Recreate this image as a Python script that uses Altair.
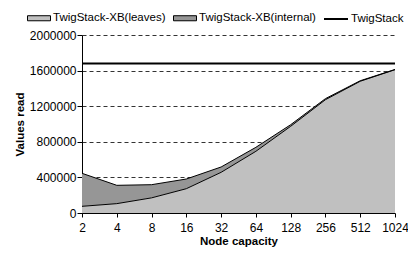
import altair as alt
import pandas as pd

capacities = [2, 4, 8, 16, 32, 64, 128, 256, 512, 1024]
leaves = [75000, 105000, 170000, 273000, 457000, 693000, 974000, 1273000, 1480000, 1610000]
internal = [371000, 206000, 148000, 109000, 60000, 45000, 18000, 12000, 6000, 3000]
twigstack = [1680000] * len(capacities)

series_names = ["TwigStack-XB(leaves)", "TwigStack-XB(internal)"]
area_colors = ["#c0c0c0", "#969696"]

rows = []
for i, c in enumerate(capacities):
    rows.append({"cap": c, "series": series_names[0], "lo": 0, "hi": leaves[i]})
    rows.append({"cap": c, "series": series_names[1], "lo": leaves[i], "hi": leaves[i] + internal[i]})
area_df = pd.DataFrame(rows)
line_df = pd.DataFrame({"cap": capacities, "val": twigstack, "series": ["TwigStack"] * len(capacities)})

FONT = "Liberation Sans"
yaxis = alt.Axis(title="Values read", values=list(range(0, 2000001, 400000)),
                 format="d", grid=True, labelOverlap=False)
xaxis = alt.Axis(title="Node capacity", labelAngle=0, grid=False, labelOverlap=False,
                 labelFlush=False, values=capacities, format="d")
xscale = alt.Scale(type="log", base=2, domain=[2, 1024], nice=False)
yscale = alt.Scale(domain=[0, 2000000])

rect_path = "M-1,-0.22H1V0.22H-1Z"

base = alt.Chart(area_df)
areas = base.mark_area(opacity=1).encode(
    x=alt.X("cap:Q", scale=xscale, axis=xaxis),
    y=alt.Y("hi:Q", scale=yscale, axis=yaxis),
    y2="lo:Q",
    fill=alt.Fill("series:N", sort=series_names,
                  scale=alt.Scale(domain=series_names, range=area_colors),
                  legend=alt.Legend(title=None, orient="none", legendX=-55, legendY=-29,
                                    direction="horizontal", symbolType=rect_path, symbolSize=529,
                                    symbolStrokeColor="black", symbolStrokeWidth=1,
                                    columnPadding=5, labelOffset=2, padding=0)),
)
outlines = base.mark_line(color="black", strokeWidth=1).encode(
    x=alt.X("cap:Q", scale=xscale, axis=xaxis),
    y=alt.Y("hi:Q", scale=yscale, axis=yaxis),
    detail="series:N",
)

line = alt.Chart(line_df).mark_line(color="black", strokeWidth=2).encode(
    x=alt.X("cap:Q", scale=xscale, axis=xaxis),
    y=alt.Y("val:Q", scale=yscale, axis=yaxis),
    stroke=alt.Stroke("series:N", scale=alt.Scale(domain=["TwigStack"], range=["black"]),
                      legend=alt.Legend(title=None, orient="none", legendX=241, legendY=-29,
                                        symbolType="stroke", symbolSize=576, symbolStrokeWidth=2,
                                        labelOffset=2, padding=0)),
)

chart = alt.layer(areas, outlines, line).resolve_scale(fill="independent", stroke="independent").properties(
    width=313, height=178,
    padding={"left": 74, "top": 27, "right": 13, "bottom": 36},
    autosize=alt.AutoSizeParams(type="none"),
).configure_view(strokeWidth=0).configure_axis(
    labelFont=FONT, titleFont=FONT, labelFontSize=12, titleFontSize=11.5,
    labelColor="black", titleColor="black", domainColor="black", tickColor="black",
    titleFontWeight="bold",
    gridColor="#333", gridDash=[4, 3], gridWidth=1,
).configure_axisY(tickSize=5, titlePadding=4, labelPadding=1).configure_axisX(
    tickSize=4, titlePadding=2, labelPadding=5).configure_legend(
    labelFont=FONT, labelFontSize=11.5, labelColor="black",
)

chart.save("out.html", embed_options={"renderer": "svg", "actions": False})
